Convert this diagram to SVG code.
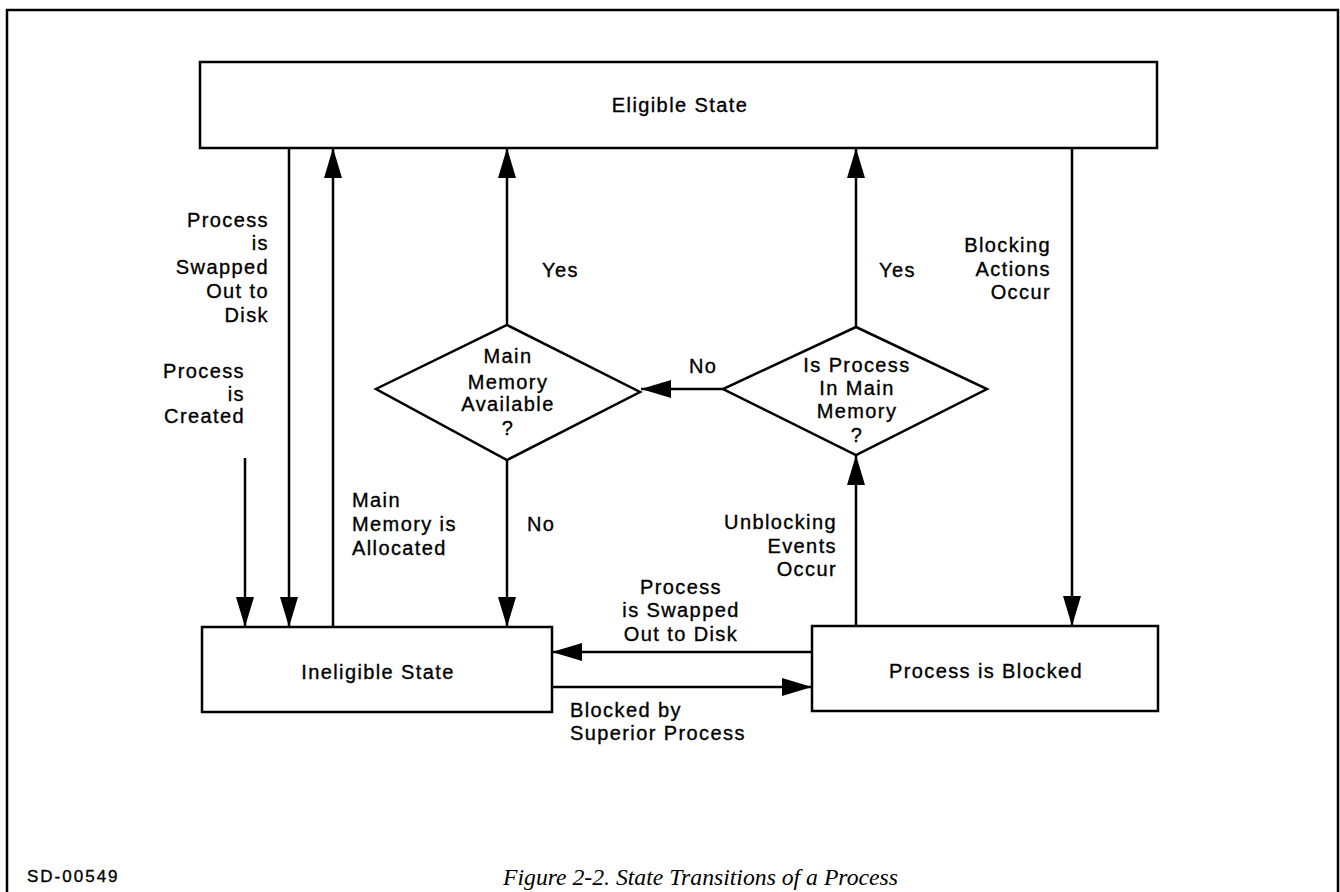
<svg xmlns="http://www.w3.org/2000/svg" width="1340" height="892" viewBox="0 0 1340 892">
  <defs>
    <style>
      .box { fill: #fff; stroke: #000; stroke-width: 2.5; }
      .frame { fill: none; stroke: #000; stroke-width: 2.5; }
      .arrow { fill: none; stroke: #000; stroke-width: 2.5; marker-end: url(#head); }
      text { font-family: "Liberation Sans", Arial, Helvetica, sans-serif; font-size: 20px; fill: #000; stroke: #000; stroke-width: 0.35; letter-spacing: 1.4px; }
      .c { text-anchor: middle; }
      .r { text-anchor: end; }
      .caption { font-family: "Liberation Serif", "Times New Roman", serif; font-style: italic; font-size: 23px; letter-spacing: 0; stroke-width: 0; }
      .code { font-size: 17px; letter-spacing: 2px; }
    </style>
    <marker id="head" markerUnits="userSpaceOnUse" markerWidth="30" markerHeight="18" refX="30" refY="9" orient="auto" viewBox="0 0 30 18">
      <path d="M0,0 L30,9 L0,18 Z" fill="#000"/>
    </marker>
  </defs>

  <rect width="1340" height="892" fill="#fff"/>

  <!-- outer frame, open at the bottom -->
  <path class="frame" d="M7,892 V10 H1338 V892"/>

  <!-- connectors -->
  <g id="connectors">
    <!-- Eligible -> Ineligible (swapped out) -->
    <line class="arrow" x1="289" y1="148" x2="289" y2="627"/>
    <!-- process created -->
    <line class="arrow" x1="245" y1="458" x2="245" y2="627"/>
    <!-- Ineligible -> Eligible (memory allocated) -->
    <line class="arrow" x1="333" y1="627" x2="333" y2="148"/>
    <!-- Main Memory Available: Yes -->
    <line class="arrow" x1="507" y1="325" x2="507" y2="148"/>
    <!-- Main Memory Available: No -->
    <line class="arrow" x1="507" y1="460" x2="507" y2="627"/>
    <!-- Is Process In Main Memory: Yes -->
    <line class="arrow" x1="856" y1="327" x2="856" y2="148"/>
    <!-- Is Process In Main Memory: No -->
    <line class="arrow" x1="723" y1="389" x2="641" y2="389"/>
    <!-- unblocking events -->
    <line class="arrow" x1="856" y1="626" x2="856" y2="455"/>
    <!-- blocking actions -->
    <line class="arrow" x1="1072" y1="148" x2="1072" y2="626"/>
    <!-- Blocked -> Ineligible (swapped out) -->
    <line class="arrow" x1="812" y1="652" x2="552" y2="652"/>
    <!-- Ineligible -> Blocked (superior process) -->
    <line class="arrow" x1="552" y1="687" x2="812" y2="687"/>
  </g>

  <!-- connector labels -->
  <g id="labels">
    <text class="r" x="269" y="227">Process</text>
    <text class="r" x="269" y="250">is</text>
    <text class="r" x="269" y="274">Swapped</text>
    <text class="r" x="269" y="298">Out to</text>
    <text class="r" x="269" y="322">Disk</text>

    <text class="r" x="245" y="378">Process</text>
    <text class="r" x="245" y="401">is</text>
    <text class="r" x="245" y="423">Created</text>

    <text x="352" y="507">Main</text>
    <text x="352" y="531">Memory is</text>
    <text x="352" y="555">Allocated</text>

    <text x="542" y="277">Yes</text>
    <text x="527" y="531">No</text>
    <text x="689" y="373">No</text>
    <text x="879" y="277">Yes</text>

    <text class="r" x="1051" y="252">Blocking</text>
    <text class="r" x="1051" y="276">Actions</text>
    <text class="r" x="1051" y="299">Occur</text>

    <text class="r" x="837" y="529">Unblocking</text>
    <text class="r" x="837" y="553">Events</text>
    <text class="r" x="837" y="576">Occur</text>

    <text class="c" x="681" y="594">Process</text>
    <text class="c" x="681" y="617">is Swapped</text>
    <text class="c" x="681" y="641">Out to Disk</text>

    <text x="570" y="717">Blocked by</text>
    <text x="570" y="740">Superior Process</text>
  </g>

  <g id="eligible">
    <rect class="box" x="200" y="62" width="957" height="86"/>
    <text class="c" x="680" y="112">Eligible State</text>
  </g>

  <g id="memory-available">
    <polygon class="box" points="507,325 640,392 507,460 376,389"/>
    <text class="c" x="508" y="363">Main</text>
    <text class="c" x="508" y="389">Memory</text>
    <text class="c" x="508" y="411">Available</text>
    <text class="c" x="508" y="435">?</text>
  </g>

  <g id="in-main-memory">
    <polygon class="box" points="856,327 987,389 856,455 723,389"/>
    <text class="c" x="857" y="372">Is Process</text>
    <text class="c" x="857" y="395">In Main</text>
    <text class="c" x="857" y="418">Memory</text>
    <text class="c" x="857" y="442">?</text>
  </g>

  <g id="ineligible">
    <rect class="box" x="202" y="627" width="350" height="85"/>
    <text class="c" x="378" y="679">Ineligible State</text>
  </g>

  <g id="blocked">
    <rect class="box" x="812" y="626" width="346" height="85"/>
    <text class="c" x="986" y="678">Process is Blocked</text>
  </g>

  <text class="code" x="27" y="882">SD-00549</text>
  <text class="caption" x="503" y="885" textLength="395" lengthAdjust="spacingAndGlyphs">Figure 2-2.  State Transitions of a Process</text>
</svg>
